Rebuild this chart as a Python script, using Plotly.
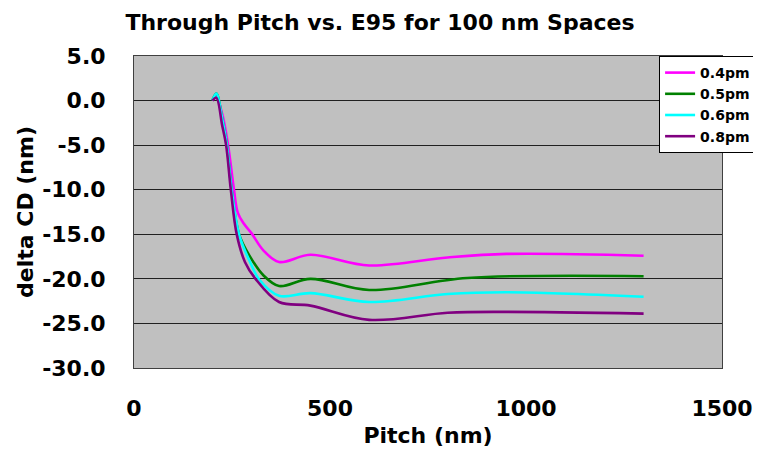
import plotly.graph_objects as go

# Data
pitch_04 = [200, 210, 225, 240, 255, 265, 280, 300, 330, 370, 450, 600, 800, 950, 1300]
cd_04 = [0.0, 0.4, -1.5, -5.0, -10.0, -12.6, -13.8, -14.9, -16.8, -18.1, -17.3, -18.5, -17.6, -17.2, -17.4]

pitch_05 = [200, 210, 225, 237, 249, 268, 296, 330, 370, 450, 600, 850, 1300]
cd_05 = [0.0, 0.8, -2.0, -5.0, -10.0, -15.0, -17.5, -19.6, -20.8, -20.0, -21.25, -19.9, -19.7]

pitch_06 = [200, 210, 225, 237, 249, 268, 296, 320, 370, 450, 600, 800, 950, 1300]
cd_06 = [0.0, 0.8, -2.0, -5.0, -10.0, -15.0, -18.1, -20.1, -21.9, -21.6, -22.6, -21.7, -21.5, -22.0]

pitch_08 = [200, 210, 225, 235, 247, 262, 283, 310, 370, 450, 600, 800, 950, 1300]
cd_08 = [0.0, 0.3, -2.8, -5.0, -10.0, -15.0, -18.1, -20.0, -22.6, -23.0, -24.6, -23.8, -23.7, -23.9]

series = [
    ("0.4pm", pitch_04, cd_04, "#FF00FF"),
    ("0.5pm", pitch_05, cd_05, "#008000"),
    ("0.6pm", pitch_06, cd_06, "#00FFFF"),
    ("0.8pm", pitch_08, cd_08, "#800080"),
]

x_ticks = [0, 500, 1000, 1500]
y_ticks = [5, 0, -5, -10, -15, -20, -25, -30]
y_ticktext = ["%.1f" % v for v in y_ticks]

FONT = "DejaVu Sans"
# the page body adds an 8px offset; the figure is sized to fill the rest
W, H = 753, 449

fig = go.Figure()
for name, x, y, color in series:
    fig.add_trace(go.Scatter(
        x=x, y=y, name=name, mode="lines",
        line=dict(color=color, width=2.6, shape="spline", smoothing=1.0),
    ))

fig.update_layout(
    width=W, height=H,
    margin=dict(l=126, r=39, t=48, b=89, autoexpand=False),
    paper_bgcolor="white",
    plot_bgcolor="#C0C0C0",
    font=dict(family=FONT, color="black", weight="bold"),
    title=dict(
        text="Through Pitch vs. E95 for 100 nm Spaces",
        font=dict(family=FONT, size=22, color="black", weight="bold"),
        x=372 / W, xref="container", xanchor="center",
        y=1 - 14 / H, yref="container", yanchor="middle",
        automargin=False,
    ),
    showlegend=True,
    legend=dict(
        x=0.893, xanchor="left", y=1.0, yanchor="top",
        bgcolor="white", bordercolor="black", borderwidth=1,
        font=dict(family=FONT, size=14, color="black", weight="bold"),
        itemwidth=30, tracegroupgap=0,
    ),
)

fig.update_xaxes(
    range=[0, 1500], tickvals=x_ticks, showgrid=False, zeroline=False,
    showline=True, linecolor="#404040", linewidth=1, mirror=True,
    tickfont=dict(family=FONT, size=22, color="black", weight="bold"),
    ticklabelstandoff=21, automargin=False,
    title=dict(text="Pitch (nm)", standoff=7,
               font=dict(family=FONT, size=22, color="black", weight="bold")),
)
fig.update_yaxes(
    range=[-30, 5], tickvals=y_ticks, ticktext=y_ticktext,
    showgrid=True, gridcolor="#202020", gridwidth=1, zeroline=False,
    showline=True, linecolor="#404040", linewidth=1, mirror=True,
    tickfont=dict(family=FONT, size=22, color="black", weight="bold"),
    ticklabelstandoff=23, automargin=False,
    title=dict(text="delta CD (nm)", standoff=2,
               font=dict(family=FONT, size=22, color="black", weight="bold")),
)

fig.write_html("out.html")
